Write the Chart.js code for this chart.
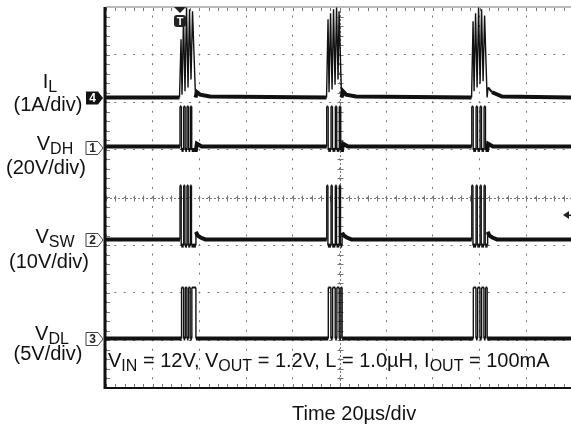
<!DOCTYPE html>
<html>
<head>
<meta charset="utf-8">
<title>Skip mode switching waveforms</title>
<script src="https://cdn.jsdelivr.net/npm/chart.js@4.4.1/dist/chart.umd.min.js"></script>
<style>
    body { margin: 0; background: #fff; }
    canvas { display: block; }
</style>
</head>
<body>
<canvas id="scopeChart" width="571" height="427"></canvas>
<script>
// Time axis in microseconds (20us/div), vertical axis in screen divisions
var timeMax = 199.1;
var triggerTime = 31.7;

// Channel ground levels (divisions from centre)
var ilBase = 2.10;
var vdhBase = 1.07;
var vswBase = -0.88;
var vdlBase = -2.96;

// I_L (ch4)
var ilTime = [0, 31.48, 32.12, 32.55, 33.19, 33.83, 34.48, 35.12, 35.76, 36.40, 37.04, 38.33, 38.97, 40.26, 44.54,
    94.43, 95.07, 95.50, 96.15, 96.79, 97.43, 98.07, 98.72, 99.36, 99.79, 100.86, 101.50, 102.78, 107.07,
    156.53, 157.17, 157.60, 158.24, 158.89, 159.53, 160.17, 160.81, 161.46, 162.10, 163.17, 163.60, 165.31, 169.59, 199.1];
var ilLevel = [2.10, 2.10, 3.32, 2.16, 3.78, 2.23, 3.99, 2.31, 3.95, 2.48, 3.91, 2.10, 2.21, 2.16, 2.12,
    2.10, 3.74, 2.21, 3.87, 2.27, 3.95, 2.37, 3.99, 2.48, 3.91, 2.10, 2.23, 2.16, 2.12,
    2.10, 3.70, 2.23, 3.87, 2.31, 3.99, 2.39, 3.95, 2.44, 3.82, 2.10, 2.31, 2.21, 2.12, 2.10];

// V_DH (ch1)
var vdhTime = [0,
    31.69, 31.69, 32.29, 32.29, 33.28, 33.28, 33.88, 33.88, 34.69, 34.69, 35.29, 35.29, 36.10, 36.10, 36.70, 36.70, 38.50, 38.90, 41.00,
    94.52, 94.52, 95.12, 95.12, 96.36, 96.36, 96.96, 96.96, 98.20, 98.20, 98.80, 98.80, 99.91, 99.91, 100.51, 100.51, 101.10, 101.50, 103.60,
    156.62, 156.62, 157.22, 157.22, 158.46, 158.46, 159.06, 159.06, 160.17, 160.17, 160.77, 160.77, 161.88, 161.88, 162.48, 162.48, 163.20, 163.60, 165.70,
    199.1];
var vdhLevel = [1.07,
    1.07, 1.91, 1.91, 1.00, 1.00, 1.91, 1.91, 1.00, 1.00, 1.91, 1.91, 1.00, 1.00, 1.91, 1.91, 1.00, 1.00, 1.13, 1.07,
    1.07, 1.91, 1.91, 1.00, 1.00, 1.91, 1.91, 1.00, 1.00, 1.91, 1.91, 1.00, 1.00, 1.91, 1.91, 1.00, 1.00, 1.13, 1.07,
    1.07, 1.91, 1.91, 1.00, 1.00, 1.91, 1.91, 1.00, 1.00, 1.91, 1.91, 1.00, 1.00, 1.91, 1.91, 1.00, 1.00, 1.13, 1.07,
    1.07];

// V_SW (ch2)
var vswTime = [0,
    31.69, 31.69, 32.19, 32.19, 33.28, 33.28, 33.78, 33.78, 34.69, 34.69, 35.19, 35.19, 36.10, 36.10, 36.60, 36.60, 38.50, 38.50, 39.30, 40.50, 42.50,
    94.52, 94.52, 95.02, 95.02, 96.36, 96.36, 96.86, 96.86, 98.20, 98.20, 98.70, 98.70, 99.91, 99.91, 100.41, 100.41, 101.10, 101.10, 101.90, 103.10, 105.10,
    156.62, 156.62, 157.12, 157.12, 158.46, 158.46, 158.96, 158.96, 160.17, 160.17, 160.67, 160.67, 161.88, 161.88, 162.38, 162.38, 163.40, 163.40, 164.20, 165.40, 167.40,
    199.1];
var vswLevel = [-0.88,
    -0.88, 0.25, 0.25, -1.01, -1.01, 0.25, 0.25, -1.01, -1.01, 0.25, 0.25, -1.01, -1.01, 0.25, 0.25, -1.01, -1.01, -0.72, -0.80, -0.84, -0.88,
    -0.88, 0.25, 0.25, -1.01, -1.01, 0.25, 0.25, -1.01, -1.01, 0.25, 0.25, -1.01, -1.01, 0.25, 0.25, -1.01, -1.01, -0.74, -0.80, -0.84, -0.88,
    -0.88, 0.25, 0.25, -1.01, -1.01, 0.25, 0.25, -1.01, -1.01, 0.25, 0.25, -1.01, -1.01, 0.25, 0.25, -1.01, -1.01, -0.72, -0.80, -0.84, -0.88,
    -0.88];

// V_DL (ch3)
var vdlTime = [0,
    31.69, 32.35, 32.35, 33.22, 33.22, 33.94, 33.94, 34.63, 34.63, 35.35, 35.35, 36.04, 36.04, 36.76, 36.76, 38.50, 38.50,
    94.52, 95.18, 95.18, 96.30, 96.30, 97.02, 97.02, 98.14, 98.14, 98.86, 98.86, 99.85, 99.85, 100.57, 100.57, 101.10, 101.10,
    156.62, 157.28, 157.28, 158.40, 158.40, 159.12, 159.12, 160.11, 160.11, 160.83, 160.83, 161.82, 161.82, 162.54, 162.54, 163.20, 163.20,
    199.1];
var vdlLevel = [-2.96,
    -2.96, -2.96, -1.89, -1.89, -2.96, -2.96, -1.89, -1.89, -2.96, -2.96, -1.89, -1.89, -2.96, -2.96, -1.89, -1.89, -2.96,
    -2.96, -2.96, -1.89, -1.89, -2.96, -2.96, -1.89, -1.89, -2.96, -2.96, -1.89, -1.89, -2.96, -2.96, -1.89, -1.89, -2.96,
    -2.96, -2.96, -1.89, -1.89, -2.96, -2.96, -1.89, -1.89, -2.96, -2.96, -1.89, -1.89, -2.96, -2.96, -1.89, -1.89, -2.96,
    -2.96];

// Channel labels: [name, subscript, scale text, marker number]
var channelNames = ['I', 'V', 'V', 'V'];
var channelSubs = ['L', 'DH', 'SW', 'DL'];
var channelScales = ['(1A/div)', '(20V/div)', '(10V/div)', '(5V/div)'];
var channelNumbers = ['4', '1', '2', '3'];

var FONT = '"Liberation Sans", Arial, Helvetica, sans-serif';

function toPoints(times, levels) {
    var pts = [];
    for (var i = 0; i < times.length; i++) {
        pts.push({ x: times[i], y: levels[i] });
    }
    return pts;
}

// flat trace segments look thick and noisy on the scope, edges are thin
function segWidth(base) {
    return function (ctx) {
        var y0 = ctx.p0.parsed.y, y1 = ctx.p1.parsed.y;
        if (Math.abs(y0 - y1) < 0.2) {
            if (Math.abs(y0 - base) < 0.2) return 4;
            return 2;
        }
        return 1.4;
    };
}

function trace(points, base) {
    return {
        data: points,
        borderColor: '#111',
        borderWidth: 1.4,
        pointRadius: 0,
        tension: 0,
        fill: false,
        segment: { borderWidth: segWidth(base) }
    };
}

// draw text with subscripts, parts = [[text, isSub], ...]
function drawRich(ctx, x, y, parts, align) {
    var total = 0;
    var i;
    for (i = 0; i < parts.length; i++) {
        ctx.font = (parts[i][1] ? '16px ' : '20px ') + FONT;
        total += ctx.measureText(parts[i][0]).width;
    }
    var cx = align === 'center' ? x - total / 2 : x;
    ctx.textAlign = 'left';
    ctx.textBaseline = 'alphabetic';
    for (i = 0; i < parts.length; i++) {
        ctx.font = (parts[i][1] ? '16px ' : '20px ') + FONT;
        ctx.fillText(parts[i][0], cx, parts[i][1] ? y + 4 : y);
        cx += ctx.measureText(parts[i][0]).width;
    }
}

function drawMarker(ctx, y, num, filled) {
    var x0 = 86;
    ctx.save();
    ctx.beginPath();
    ctx.moveTo(x0, y - 6.5);
    ctx.lineTo(x0 + 12, y - 6.5);
    ctx.lineTo(x0 + 17, y);
    ctx.lineTo(x0 + 12, y + 6.5);
    ctx.lineTo(x0, y + 6.5);
    ctx.closePath();
    ctx.lineWidth = 1;
    if (filled) {
        ctx.fillStyle = '#111';
        ctx.fill();
    } else {
        ctx.fillStyle = '#fff';
        ctx.fill();
        ctx.strokeStyle = '#444';
        ctx.stroke();
    }
    ctx.fillStyle = filled ? '#fff' : '#222';
    ctx.font = 'bold 12px ' + FONT;
    ctx.textAlign = 'center';
    ctx.textBaseline = 'middle';
    ctx.fillText(num, x0 + 6.5, y + 0.5);
    ctx.restore();
}

var scopeDecor = {
    id: 'scopeDecor',
    beforeDatasetsDraw: function (chart) {
        var ctx = chart.ctx;
        var area = chart.chartArea;
        var xs = chart.scales.x, ys = chart.scales.y;
        var cx = Math.round(xs.getPixelForValue(100)) + 0.5;
        var cy = Math.round(ys.getPixelForValue(0)) + 0.5;
        var v, p;
        ctx.save();
        ctx.strokeStyle = '#777';
        ctx.lineWidth = 1;
        // centre crosshair with minor ticks
        ctx.setLineDash([2, 2]);
        ctx.beginPath();
        ctx.moveTo(area.left, cy); ctx.lineTo(area.right, cy);
        ctx.moveTo(cx, area.top); ctx.lineTo(cx, area.bottom);
        ctx.stroke();
        ctx.setLineDash([]);
        ctx.beginPath();
        for (v = -4; v <= 4.001; v += 0.2) {
            p = Math.round(ys.getPixelForValue(v)) + 0.5;
            ctx.moveTo(cx - 3, p); ctx.lineTo(cx + 3, p);
            ctx.moveTo(area.left, p); ctx.lineTo(area.left + 4, p);
        }
        for (v = 0; v <= timeMax; v += 4) {
            p = Math.round(xs.getPixelForValue(v)) + 0.5;
            ctx.moveTo(p, cy - 3); ctx.lineTo(p, cy + 3);
            ctx.moveTo(p, area.top); ctx.lineTo(p, area.top + 4);
            ctx.moveTo(p, area.bottom); ctx.lineTo(p, area.bottom - 4);
        }
        ctx.stroke();
        // frame
        ctx.strokeStyle = '#bbb';
        ctx.lineWidth = 2;
        ctx.beginPath();
        ctx.moveTo(area.left, area.top); ctx.lineTo(area.right, area.top);
        ctx.stroke();
        ctx.strokeStyle = '#111';
        ctx.beginPath();
        ctx.moveTo(area.left, area.bottom); ctx.lineTo(area.right, area.bottom);
        ctx.stroke();
        ctx.lineWidth = 3;
        ctx.beginPath();
        ctx.moveTo(area.left - 1, area.top); ctx.lineTo(area.left - 1, area.bottom + 1);
        ctx.stroke();
        ctx.restore();
    },
    afterDraw: function (chart) {
        var ctx = chart.ctx;
        var area = chart.chartArea;
        var xs = chart.scales.x, ys = chart.scales.y;
        var bases = [ilBase, vdhBase, vswBase, vdlBase];
        var nameX = [50, 55, 55, 52];
        var nameY = [88, 150, 243, 340];
        var scaleX = [48, 46, 49, 48];
        var scaleY = [111, 174, 268, 360];
        ctx.save();
        ctx.fillStyle = '#111';
        for (var i = 0; i < bases.length; i++) {
            drawRich(ctx, nameX[i], nameY[i], [[channelNames[i], false], [channelSubs[i], true]], 'center');
            drawRich(ctx, scaleX[i], scaleY[i], [[channelScales[i], false]], 'center');
            drawMarker(ctx, Math.round(ys.getPixelForValue(bases[i])) + 1, channelNumbers[i], i === 0);
        }
        ctx.fillStyle = '#111';
        drawRich(ctx, area.left + 2, 367, [['V', false], ['IN', true], [' = 12V, ', false], ['V', false], ['OUT', true],
            [' = 1.2V, L = 1.0\u00b5H, ', false], ['I', false], ['OUT', true], [' = 100mA', false]], 'left');
        drawRich(ctx, 292, 420, [['Time 20\u00b5s/div', false]], 'left');

        // trigger position marker
        var tx = Math.round(xs.getPixelForValue(triggerTime));
        ctx.fillStyle = '#222';
        ctx.beginPath();
        ctx.moveTo(tx - 6, area.top); ctx.lineTo(tx + 6, area.top); ctx.lineTo(tx, area.top + 6);
        ctx.closePath();
        ctx.fill();
        ctx.beginPath();
        ctx.roundRect(tx - 6, area.top + 8, 12, 12, 3);
        ctx.fill();
        ctx.fillStyle = '#fff';
        ctx.font = 'bold 11px ' + FONT;
        ctx.textAlign = 'center';
        ctx.textBaseline = 'middle';
        ctx.fillText('T', tx, area.top + 14.5);

        // trigger level marker
        var ty = Math.round(ys.getPixelForValue(-0.36));
        ctx.fillStyle = '#222';
        ctx.beginPath();
        ctx.moveTo(area.right - 8, ty); ctx.lineTo(area.right - 2, ty - 4); ctx.lineTo(area.right - 2, ty + 4);
        ctx.closePath();
        ctx.fill();
        ctx.fillRect(area.right - 3, ty - 0.5, 3, 1.5);
        ctx.restore();
    }
};

var chartCtx = document.getElementById('scopeChart').getContext('2d');
var scopeChart = new Chart(chartCtx, {
    type: 'line',
    data: {
        datasets: [
            trace(toPoints(ilTime, ilLevel), ilBase),
            trace(toPoints(vdhTime, vdhLevel), vdhBase),
            trace(toPoints(vswTime, vswLevel), vswBase),
            trace(toPoints(vdlTime, vdlLevel), vdlBase)
        ]
    },
    options: {
        responsive: false,
        animation: false,
        layout: { padding: { left: 106, top: 7, right: 0, bottom: 39 } },
        plugins: {
            legend: { display: false },
            tooltip: { enabled: false }
        },
        scales: {
            x: {
                type: 'linear',
                min: 0,
                max: timeMax,
                ticks: { display: false, stepSize: 20, includeBounds: false },
                grid: { color: '#777', lineWidth: 1, drawTicks: false },
                border: { display: false, dash: [2, 7.52], dashOffset: 1 }
            },
            y: {
                type: 'linear',
                min: -4,
                max: 4,
                ticks: { display: false, stepSize: 1 },
                grid: { color: '#777', lineWidth: 1, drawTicks: false },
                border: { display: false, dash: [2, 7.34], dashOffset: 1 }
            }
        }
    },
    plugins: [scopeDecor]
});
</script>
</body>
</html>
